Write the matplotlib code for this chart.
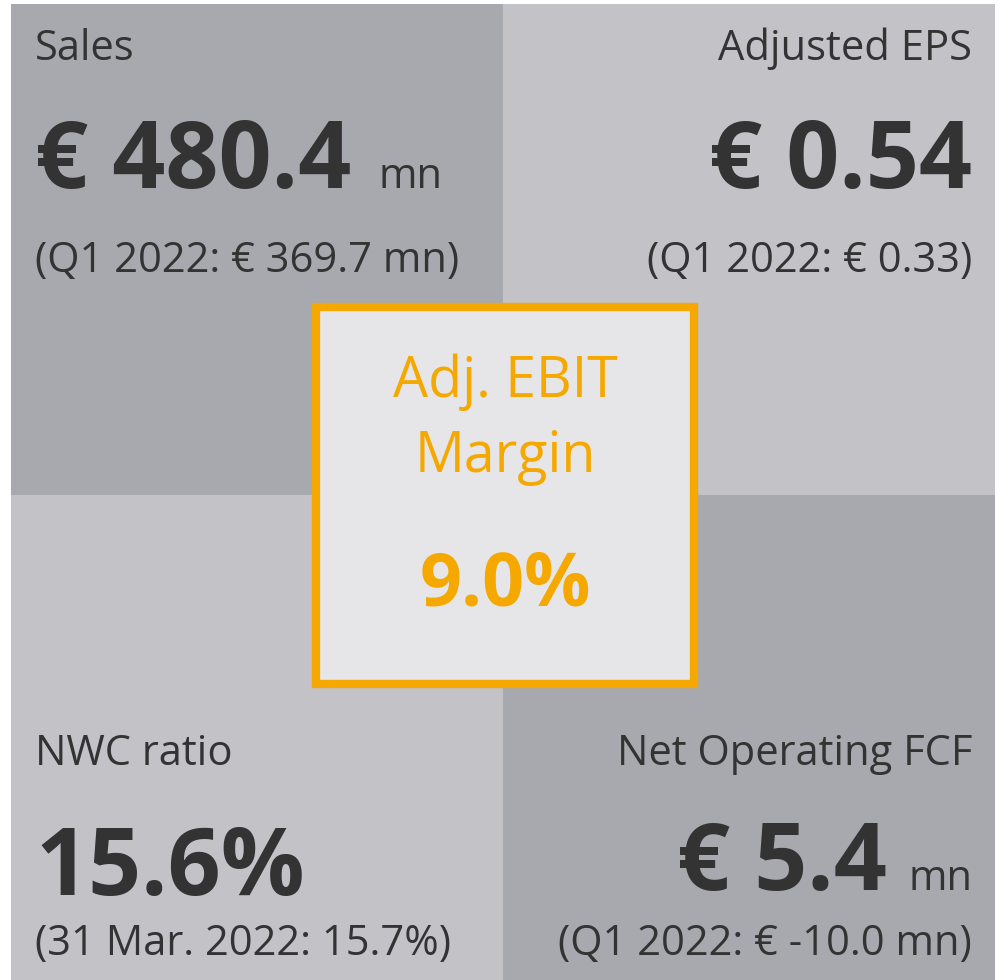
import matplotlib.pyplot as plt
from matplotlib.patches import Rectangle

plt.rcParams['font.family'] = ['Open Sans', 'DejaVu Sans']

# KPI tiles: top-left, top-right, bottom-left, bottom-right
titles = ["Sales", "Adjusted EPS", "NWC ratio", "Net Operating FCF"]
values = ["€ 480.4", "€ 0.54", "15.6%", "€ 5.4"]
units = ["mn", "", "", "mn"]
prior = ["(Q1 2022: € 369.7 mn)", "(Q1 2022: € 0.33)",
         "(31 Mar. 2022: 15.7%)", "(Q1 2022: € -10.0 mn)"]

center_title = ["Adj. EBIT", "Margin"]
center_value = "9.0%"

DARK = "#a8a9ae"
LIGHT = "#c3c2c7"
TEXT = "#333333"
ORANGE = "#f5a800"
BOXFILL = "#e6e6e8"

W, H = 1005, 980
fig = plt.figure(figsize=(W / 100, H / 100), dpi=100)
ax = fig.add_axes([0, 0, 1, 1])
ax.set_xlim(0, W)
ax.set_ylim(H, 0)
ax.set_axis_off()

x0, xm, x1 = 11, 503, 995
y0, ym, y1 = 4, 495, 980
tiles = [(x0, y0, xm, ym, DARK), (xm, y0, x1, ym, LIGHT),
         (x0, ym, xm, y1, LIGHT), (xm, ym, x1, y1, DARK)]
for (a, b, c, d, col) in tiles:
    ax.add_patch(Rectangle((a, b), c - a, d - b, color=col, lw=0))

SMALL = 30
BIG = 67

# text layout per tile: left-aligned on left column, right-aligned on right
rows = [(60, 188, 272), (60, 188, 272), (765, 895, 955), (765, 890, 955)]
for i in range(4):
    left = i % 2 == 0
    tx = 35 if left else 972
    ha = "left" if left else "right"
    yt, yv, yp = rows[i]
    ax.text(tx, yt, titles[i], ha=ha, va="baseline", fontsize=SMALL, color=TEXT)
    ax.text(tx, yp, prior[i], ha=ha, va="baseline", fontsize=SMALL, color=TEXT)
    if units[i]:
        if left:
            ax.text(tx, yv, values[i], ha="left", va="baseline",
                    fontsize=BIG, fontweight="bold", color=TEXT)
            ax.text(378, yv, units[i], ha="left", va="baseline",
                    fontsize=SMALL, color=TEXT)
        else:
            ax.text(tx, yv, units[i], ha="right", va="baseline",
                    fontsize=SMALL, color=TEXT)
            ax.text(887, yv, values[i], ha="right", va="baseline",
                    fontsize=BIG, fontweight="bold", color=TEXT)
    else:
        ax.text(tx, yv, values[i], ha=ha, va="baseline",
                fontsize=BIG, fontweight="bold", color=TEXT)

# centre box
ax.add_patch(Rectangle((316, 307), 378, 377, facecolor=BOXFILL,
                       edgecolor=ORANGE, lw=6))
ax.text(505, 397, center_title[0], ha="center", va="baseline", fontsize=40, color=ORANGE)
ax.text(505, 472, center_title[1], ha="center", va="baseline", fontsize=40, color=ORANGE)
ax.text(505, 605, center_value, ha="center", va="baseline", fontsize=53,
        fontweight="bold", color=ORANGE)

fig.savefig("out.png", dpi=100, facecolor="white")
